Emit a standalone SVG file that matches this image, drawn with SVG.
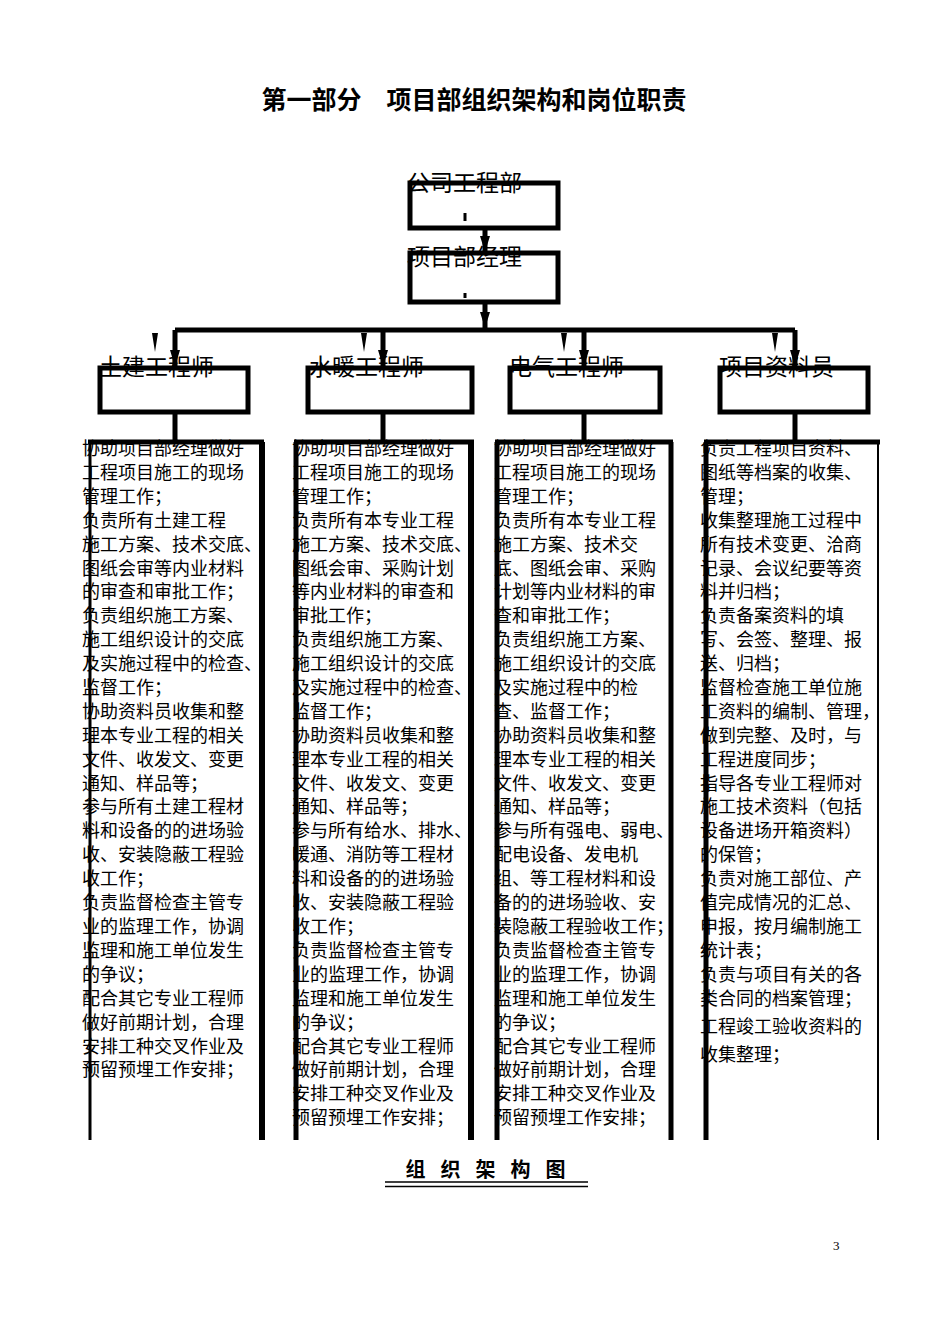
<svg xmlns="http://www.w3.org/2000/svg" width="950" height="1344" viewBox="0 0 950 1344">
<style>
.t{font-family:"Liberation Serif","Noto Sans CJK SC",serif;font-size:18px;fill:#000}
.lb{font-family:"Liberation Serif","Noto Sans CJK SC",serif;font-size:23px;fill:#000}
.box{fill:none;stroke:#000;stroke-width:5}
.ln{stroke:#000;fill:none}
</style>
<rect width="950" height="1344" fill="#fff"/>
<text x="474" y="109" text-anchor="middle" style="font-family:'Liberation Serif','Noto Sans CJK SC',serif;font-size:25px;font-weight:bold">第一部分　项目部组织架构和岗位职责</text>
<g id="connectors">
<path class="ln" stroke-width="5" d="M485,228V253M485,302V330M175,330H795M175,330V368M383,330V368M584,330V368M795,330V368M175,412V442M383,412V442M584,412V442M795,412V442"/>
<path d="M480,236L490,236L485,252z M480,312L490,312L485,328z M170,350L180,350L175,367z M378,350L388,350L383,367z M579,350L589,350L584,367z M790,350L800,350L795,367z" fill="#000"/>
<path d="M152,333L158,333L155,352z M361,333L367,333L364,352z M561,333L567,333L564,352z M772,333L778,333L775,352z" fill="#000"/>
<path class="ln" stroke-width="3" d="M465,213V221M465,293V298"/>
</g>
<g id="n1"><rect class="box" x="410" y="183" width="148" height="45"/><text class="lb" x="407" y="191">公司工程部</text></g>
<g id="n2"><rect class="box" x="410" y="253" width="148" height="49"/><text class="lb" x="407" y="265">项目部经理</text></g>
<g id="n3"><rect class="box" x="100" y="368" width="148" height="44"/><text class="lb" x="99" y="375">土建工程师</text></g>
<g id="n4"><rect class="box" x="308" y="368" width="164" height="44"/><text class="lb" x="309" y="375">水暖工程师</text></g>
<g id="n5"><rect class="box" x="510" y="368" width="150" height="44"/><text class="lb" x="509" y="375">电气工程师</text></g>
<g id="n6"><rect class="box" x="720" y="368" width="148" height="44"/><text class="lb" x="719" y="375">项目资料员</text></g>
<g id="c1">
<path class="ln" stroke-width="5" d="M88,442H264"/><path class="ln" stroke-width="3" d="M90,442V1140"/><path class="ln" stroke-width="6" d="M262,442V1140"/>
<text class="t" y="455"><tspan x="82">协助项目部经理做好</tspan><tspan x="82" dy="23.9">工程项目施工的现场</tspan><tspan x="82" dy="23.9">管理工作；</tspan><tspan x="82" dy="23.9">负责所有土建工程</tspan><tspan x="82" dy="23.9">施工方案、技术交底、</tspan><tspan x="82" dy="23.9">图纸会审等内业材料</tspan><tspan x="82" dy="23.9">的审查和审批工作；</tspan><tspan x="82" dy="23.9">负责组织施工方案、</tspan><tspan x="82" dy="23.9">施工组织设计的交底</tspan><tspan x="82" dy="23.9">及实施过程中的检查、</tspan><tspan x="82" dy="23.9">监督工作；</tspan><tspan x="82" dy="23.9">协助资料员收集和整</tspan><tspan x="82" dy="23.9">理本专业工程的相关</tspan><tspan x="82" dy="23.9">文件、收发文、变更</tspan><tspan x="82" dy="23.9">通知、样品等；</tspan><tspan x="82" dy="23.9">参与所有土建工程材</tspan><tspan x="82" dy="23.9">料和设备的的进场验</tspan><tspan x="82" dy="23.9">收、安装隐蔽工程验</tspan><tspan x="82" dy="23.9">收工作；</tspan><tspan x="82" dy="23.9">负责监督检查主管专</tspan><tspan x="82" dy="23.9">业的监理工作，协调</tspan><tspan x="82" dy="23.9">监理和施工单位发生</tspan><tspan x="82" dy="23.9">的争议；</tspan><tspan x="82" dy="23.9">配合其它专业工程师</tspan><tspan x="82" dy="23.9">做好前期计划，合理</tspan><tspan x="82" dy="23.9">安排工种交叉作业及</tspan><tspan x="82" dy="23.9">预留预埋工作安排；</tspan></text>
</g>
<g id="c2">
<path class="ln" stroke-width="5" d="M294,442H474"/><path class="ln" stroke-width="5" d="M296,442V1140"/><path class="ln" stroke-width="6" d="M471,442V1140"/>
<text class="t" y="455"><tspan x="292">协助项目部经理做好</tspan><tspan x="292" dy="23.9">工程项目施工的现场</tspan><tspan x="292" dy="23.9">管理工作；</tspan><tspan x="292" dy="23.9">负责所有本专业工程</tspan><tspan x="292" dy="23.9">施工方案、技术交底、</tspan><tspan x="292" dy="23.9">图纸会审、采购计划</tspan><tspan x="292" dy="23.9">等内业材料的审查和</tspan><tspan x="292" dy="23.9">审批工作；</tspan><tspan x="292" dy="23.9">负责组织施工方案、</tspan><tspan x="292" dy="23.9">施工组织设计的交底</tspan><tspan x="292" dy="23.9">及实施过程中的检查、</tspan><tspan x="292" dy="23.9">监督工作；</tspan><tspan x="292" dy="23.9">协助资料员收集和整</tspan><tspan x="292" dy="23.9">理本专业工程的相关</tspan><tspan x="292" dy="23.9">文件、收发文、变更</tspan><tspan x="292" dy="23.9">通知、样品等；</tspan><tspan x="292" dy="23.9">参与所有给水、排水、</tspan><tspan x="292" dy="23.9">暖通、消防等工程材</tspan><tspan x="292" dy="23.9">料和设备的的进场验</tspan><tspan x="292" dy="23.9">收、安装隐蔽工程验</tspan><tspan x="292" dy="23.9">收工作；</tspan><tspan x="292" dy="23.9">负责监督检查主管专</tspan><tspan x="292" dy="23.9">业的监理工作，协调</tspan><tspan x="292" dy="23.9">监理和施工单位发生</tspan><tspan x="292" dy="23.9">的争议；</tspan><tspan x="292" dy="23.9">配合其它专业工程师</tspan><tspan x="292" dy="23.9">做好前期计划，合理</tspan><tspan x="292" dy="23.9">安排工种交叉作业及</tspan><tspan x="292" dy="23.9">预留预埋工作安排；</tspan></text>
</g>
<g id="c3">
<path class="ln" stroke-width="5" d="M495,442H673"/><path class="ln" stroke-width="5" d="M497,442V1140"/><path class="ln" stroke-width="5" d="M671,442V1140"/>
<text class="t" y="455"><tspan x="494">协助项目部经理做好</tspan><tspan x="494" dy="23.9">工程项目施工的现场</tspan><tspan x="494" dy="23.9">管理工作；</tspan><tspan x="494" dy="23.9">负责所有本专业工程</tspan><tspan x="494" dy="23.9">施工方案、技术交</tspan><tspan x="494" dy="23.9">底、图纸会审、采购</tspan><tspan x="494" dy="23.9">计划等内业材料的审</tspan><tspan x="494" dy="23.9">查和审批工作；</tspan><tspan x="494" dy="23.9">负责组织施工方案、</tspan><tspan x="494" dy="23.9">施工组织设计的交底</tspan><tspan x="494" dy="23.9">及实施过程中的检</tspan><tspan x="494" dy="23.9">查、监督工作；</tspan><tspan x="494" dy="23.9">协助资料员收集和整</tspan><tspan x="494" dy="23.9">理本专业工程的相关</tspan><tspan x="494" dy="23.9">文件、收发文、变更</tspan><tspan x="494" dy="23.9">通知、样品等；</tspan><tspan x="494" dy="23.9">参与所有强电、弱电、</tspan><tspan x="494" dy="23.9">配电设备、发电机</tspan><tspan x="494" dy="23.9">组、等工程材料和设</tspan><tspan x="494" dy="23.9">备的的进场验收、安</tspan><tspan x="494" dy="23.9">装隐蔽工程验收工作；</tspan><tspan x="494" dy="23.9">负责监督检查主管专</tspan><tspan x="494" dy="23.9">业的监理工作，协调</tspan><tspan x="494" dy="23.9">监理和施工单位发生</tspan><tspan x="494" dy="23.9">的争议；</tspan><tspan x="494" dy="23.9">配合其它专业工程师</tspan><tspan x="494" dy="23.9">做好前期计划，合理</tspan><tspan x="494" dy="23.9">安排工种交叉作业及</tspan><tspan x="494" dy="23.9">预留预埋工作安排；</tspan></text>
</g>
<g id="c4">
<path class="ln" stroke-width="5" d="M704,442H880"/><path class="ln" stroke-width="5" d="M706,442V1140"/><path class="ln" stroke-width="2" d="M878,442V1140"/>
<text class="t" y="455"><tspan x="700">负责工程项目资料、</tspan><tspan x="700" dy="23.9">图纸等档案的收集、</tspan><tspan x="700" dy="23.9">管理；</tspan><tspan x="700" dy="23.9">收集整理施工过程中</tspan><tspan x="700" dy="23.9">所有技术变更、洽商</tspan><tspan x="700" dy="23.9">记录、会议纪要等资</tspan><tspan x="700" dy="23.9">料并归档；</tspan><tspan x="700" dy="23.9">负责备案资料的填</tspan><tspan x="700" dy="23.9">写、会签、整理、报</tspan><tspan x="700" dy="23.9">送、归档；</tspan><tspan x="700" dy="23.9">监督检查施工单位施</tspan><tspan x="700" dy="23.9">工资料的编制、管理，</tspan><tspan x="700" dy="23.9">做到完整、及时，与</tspan><tspan x="700" dy="23.9">工程进度同步；</tspan><tspan x="700" dy="23.9">指导各专业工程师对</tspan><tspan x="700" dy="23.9">施工技术资料（包括</tspan><tspan x="700" dy="23.9">设备进场开箱资料）</tspan><tspan x="700" dy="23.9">的保管；</tspan><tspan x="700" dy="23.9">负责对施工部位、产</tspan><tspan x="700" dy="23.9">值完成情况的汇总、</tspan><tspan x="700" dy="23.9">申报，按月编制施工</tspan><tspan x="700" dy="23.9">统计表；</tspan><tspan x="700" dy="23.9">负责与项目有关的各</tspan><tspan x="700" dy="23.9">类合同的档案管理；</tspan><tspan x="700" dy="28">工程竣工验收资料的</tspan><tspan x="700" dy="28">收集整理；</tspan></text>
</g>
<text x="493" y="1177" text-anchor="middle" style="font-family:'Liberation Serif','Noto Sans CJK SC',serif;font-size:20px;font-weight:bold;letter-spacing:15px">组织架构图</text>
<path class="ln" stroke-width="1.5" d="M385,1182H588M385,1186.5H588"/>
<text x="833" y="1250" style="font-family:'Liberation Serif',serif;font-size:13px">3</text>
</svg>
